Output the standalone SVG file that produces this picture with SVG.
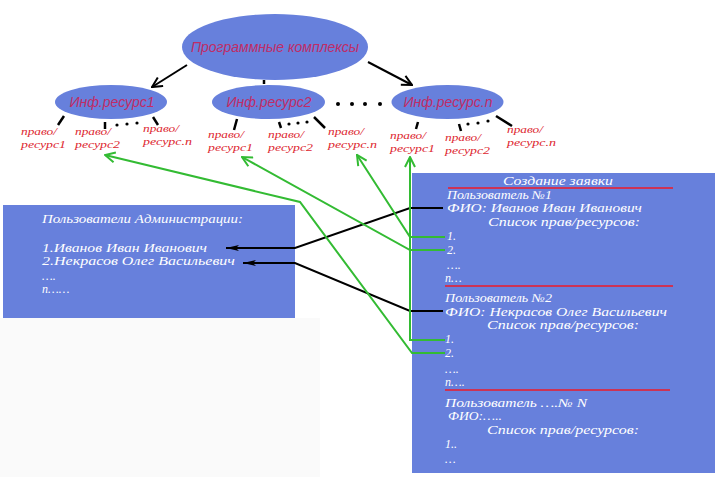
<svg xmlns="http://www.w3.org/2000/svg" width="720" height="477" viewBox="0 0 720 477">
<defs>
<style>
.blue{fill:#6780dc}
.etxt{font-family:"Liberation Sans","DejaVu Sans",sans-serif;font-style:italic;font-size:14px;fill:#c02c66}
.lbl{font-family:"Liberation Serif","DejaVu Serif",serif;font-style:italic;font-size:11px;fill:#dd1e2e}
.wt{font-family:"Liberation Serif","DejaVu Serif",serif;font-style:italic;font-size:12px;fill:#ffffff}
.tick{stroke:#000;stroke-width:2.5;fill:none}
.blk{stroke:#000;stroke-width:2;fill:none}
.grn{stroke:#33bb33;stroke-width:2;fill:none}
.red{stroke:#cc3355;stroke-width:2}
</style>
<marker id="ga" viewBox="0 0 12 12" refX="11" refY="6" markerWidth="12" markerHeight="12" markerUnits="userSpaceOnUse" orient="auto">
<path d="M1,1 L11,6 L1,11" fill="none" stroke="#33bb33" stroke-width="2"/>
</marker>
<marker id="ba" viewBox="0 0 12 12" refX="11" refY="6" markerWidth="12" markerHeight="12" markerUnits="userSpaceOnUse" orient="auto">
<path d="M1,1 L11,6 L1,11" fill="none" stroke="#000" stroke-width="2"/>
</marker>
<marker id="bf" viewBox="0 0 14 8" refX="13" refY="4" markerWidth="14" markerHeight="8" markerUnits="userSpaceOnUse" orient="auto">
<path d="M0,1 L13,4 L0,7 L3,4 Z" fill="#000"/>
</marker>
</defs>
<rect x="0" y="0" width="720" height="477" fill="#ffffff"/>
<rect x="0" y="318" width="320" height="159" fill="#fafafa"/>

<g id="root">
<ellipse class="blue" cx="275" cy="47" rx="93" ry="33"/>
<text class="etxt" x="275" y="52" text-anchor="middle">Программные комплексы</text>
</g>
<g id="res1">
<ellipse class="blue" cx="111" cy="102" rx="56" ry="17"/>
<text class="etxt" x="112" y="107" text-anchor="middle">Инф.ресурс1</text>
</g>
<g id="res2">
<ellipse class="blue" cx="268.5" cy="102" rx="56.5" ry="17"/>
<text class="etxt" x="269" y="107" text-anchor="middle">Инф.ресурс2</text>
</g>
<g id="resn">
<ellipse class="blue" cx="447.5" cy="102" rx="56" ry="17"/>
<text class="etxt" x="448" y="107" text-anchor="middle">Инф.ресурс.n</text>
</g>

<g id="labels-1">
<text class="lbl" x="21" y="135" textLength="36" lengthAdjust="spacingAndGlyphs">право/</text><text class="lbl" x="21" y="148" textLength="45" lengthAdjust="spacingAndGlyphs">ресурс1</text>
<text class="lbl" x="75" y="135" textLength="36" lengthAdjust="spacingAndGlyphs">право/</text><text class="lbl" x="75" y="148" textLength="45" lengthAdjust="spacingAndGlyphs">ресурс2</text>
<text class="lbl" x="143" y="132" textLength="36" lengthAdjust="spacingAndGlyphs">право/</text><text class="lbl" x="143" y="145" textLength="49" lengthAdjust="spacingAndGlyphs">ресурс.n</text>
</g>
<g id="labels-2">
<text class="lbl" x="208" y="138" textLength="36" lengthAdjust="spacingAndGlyphs">право/</text><text class="lbl" x="208" y="151" textLength="45" lengthAdjust="spacingAndGlyphs">ресурс1</text>
<text class="lbl" x="268" y="138" textLength="36" lengthAdjust="spacingAndGlyphs">право/</text><text class="lbl" x="268" y="151" textLength="45" lengthAdjust="spacingAndGlyphs">ресурс2</text>
<text class="lbl" x="328" y="135" textLength="36" lengthAdjust="spacingAndGlyphs">право/</text><text class="lbl" x="328" y="148" textLength="49" lengthAdjust="spacingAndGlyphs">ресурс.n</text>
</g>
<g id="labels-n">
<text class="lbl" x="390" y="139" textLength="36" lengthAdjust="spacingAndGlyphs">право/</text><text class="lbl" x="390" y="152" textLength="45" lengthAdjust="spacingAndGlyphs">ресурс1</text>
<text class="lbl" x="445" y="141" textLength="36" lengthAdjust="spacingAndGlyphs">право/</text><text class="lbl" x="445" y="154" textLength="45" lengthAdjust="spacingAndGlyphs">ресурс2</text>
<text class="lbl" x="507" y="133" textLength="36" lengthAdjust="spacingAndGlyphs">право/</text><text class="lbl" x="507" y="146" textLength="49" lengthAdjust="spacingAndGlyphs">ресурс.n</text>
</g>

<g id="admins">
<rect class="blue" x="3" y="205" width="292" height="113"/>
<text class="wt" x="42" y="223" textLength="201" lengthAdjust="spacingAndGlyphs">Пользователи Администрации:</text>
<text class="wt" x="42" y="252" textLength="165" lengthAdjust="spacingAndGlyphs">1.Иванов Иван Иванович</text>
<text class="wt" x="42" y="265" textLength="193" lengthAdjust="spacingAndGlyphs">2.Некрасов Олег Васильевич</text>
<text class="wt" x="42" y="280">….</text>
<text class="wt" x="42" y="293">n……</text>
</g>

<g id="request">
<rect class="blue" x="412" y="173" width="303" height="300"/>
<text class="wt" x="503" y="185" textLength="110" lengthAdjust="spacingAndGlyphs">Создание заявки</text>
<line class="red" x1="448" y1="188" x2="673" y2="188"/>
<text class="wt" x="447" y="199" textLength="105" lengthAdjust="spacingAndGlyphs">Пользователь №1</text>
<text class="wt" x="447" y="212" textLength="195" lengthAdjust="spacingAndGlyphs">ФИО: Иванов Иван Иванович</text>
<text class="wt" x="488" y="226" textLength="152" lengthAdjust="spacingAndGlyphs">Список прав/ресурсов:</text>
<text class="wt" x="447" y="240">1.</text>
<text class="wt" x="447" y="254">2.</text>
<text class="wt" x="447" y="269">….</text>
<text class="wt" x="445" y="282">n…</text>
<line class="red" x1="445" y1="286" x2="673" y2="286"/>
<text class="wt" x="445" y="302" textLength="107" lengthAdjust="spacingAndGlyphs">Пользователь №2</text>
<text class="wt" x="445" y="316" textLength="222" lengthAdjust="spacingAndGlyphs">ФИО: Некрасов Олег Васильевич</text>
<text class="wt" x="487" y="329" textLength="152" lengthAdjust="spacingAndGlyphs">Список прав/ресурсов:</text>
<text class="wt" x="445" y="343">1.</text>
<text class="wt" x="445" y="357">2.</text>
<text class="wt" x="445" y="373">….</text>
<text class="wt" x="445" y="386">n….</text>
<line class="red" x1="445" y1="390" x2="670" y2="390"/>
<text class="wt" x="445" y="407" textLength="142" lengthAdjust="spacingAndGlyphs">Пользователь ….№ N</text>
<text class="wt" x="448" y="420" textLength="54" lengthAdjust="spacingAndGlyphs">ФИО:…..</text>
<text class="wt" x="487" y="434" textLength="152" lengthAdjust="spacingAndGlyphs">Список прав/ресурсов:</text>
<text class="wt" x="445" y="448">1..</text>
<text class="wt" x="445" y="463">…</text>
</g>

<g id="dots" fill="#000">
<circle cx="338" cy="104" r="2"/><circle cx="352" cy="104" r="2"/><circle cx="365" cy="104" r="2"/><circle cx="380" cy="104" r="2"/>
<circle cx="117" cy="125" r="1.6"/><circle cx="127" cy="124" r="1.6"/><circle cx="137" cy="123" r="1.6"/>
<circle cx="289" cy="124" r="1.6"/><circle cx="298" cy="123" r="1.6"/><circle cx="307" cy="122" r="1.6"/>
<circle cx="468" cy="124" r="1.6"/><circle cx="478" cy="123" r="1.6"/><circle cx="488" cy="121" r="1.6"/>
</g>

<g id="connectors">
<path class="blk" d="M187,65 L152,87" marker-end="url(#ba)"/>
<path class="blk" d="M368,62 L412,85" marker-end="url(#ba)"/>
<line class="tick" x1="264" y1="80" x2="264" y2="84"/>
<line class="tick" x1="64" y1="116" x2="58" y2="125"/>
<line class="tick" x1="105" y1="122" x2="105" y2="129"/>
<line class="tick" x1="153" y1="117" x2="158" y2="125"/>
<line class="tick" x1="237" y1="119" x2="234" y2="130"/>
<line class="tick" x1="279" y1="122" x2="281" y2="128"/>
<line class="tick" x1="314" y1="117" x2="325" y2="128"/>
<line class="tick" x1="418" y1="122" x2="416" y2="129"/>
<line class="tick" x1="459" y1="124" x2="461" y2="131"/>
<line class="tick" x1="496" y1="116" x2="512" y2="126"/>

<path class="blk" d="M443,208 L410,208 L295,248 L226,248" marker-end="url(#bf)"/>
<path class="blk" d="M443,311 L410,311 L295,263 L243,263" marker-end="url(#bf)"/>

<path class="grn" d="M445,353 L412,353 L300,202 L105,155" marker-end="url(#ga)"/>
<path class="grn" d="M445,250 L410,250 L242,157" marker-end="url(#ga)"/>
<path class="grn" d="M445,237 L410,237 L357,155" marker-end="url(#ga)"/>
<path class="grn" d="M445,340 L410,340 L410,157" marker-end="url(#ga)"/>
</g>
</svg>
